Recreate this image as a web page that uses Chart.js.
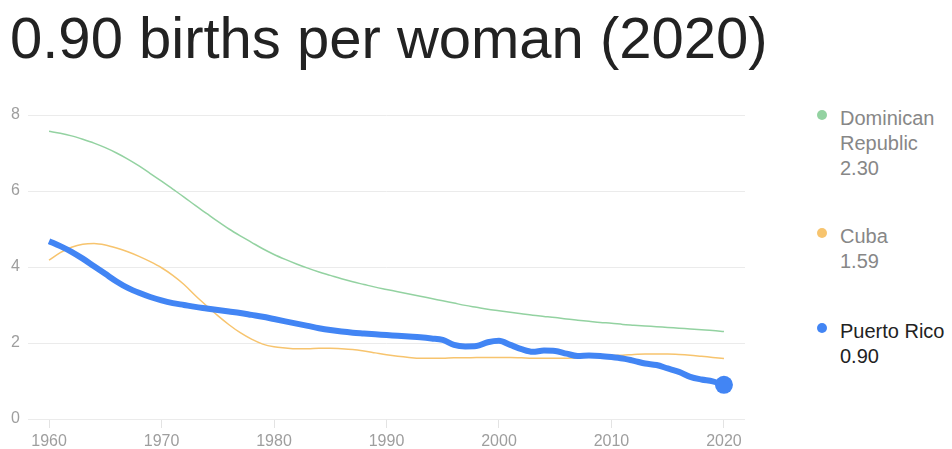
<!DOCTYPE html>
<html>
<head>
<meta charset="utf-8">
<script src="https://cdn.jsdelivr.net/npm/chart.js@4.4.1/dist/chart.umd.min.js"></script>
<style>
  body { margin: 0; background: #fff; font-family: "Liberation Sans", Arial, sans-serif; }
  #wrap { position: relative; width: 952px; height: 449px; overflow: hidden; }
  #title { position: absolute; left: 10px; top: 9px; font-size: 58px; line-height: 58px; color: #222; white-space: nowrap; }
  #chartBox { position: absolute; left: 0; top: 95px; width: 760px; height: 354px; }
  .leg { position: absolute; left: 840px; font-size: 20px; line-height: 25px; color: #878787; }
  .leg.sel { color: #222; }
  .dot { position: absolute; left: -23px; width: 10px; height: 10px; border-radius: 50%; }
</style>
</head>
<body>
<div id="wrap">
  <div id="title">0.90 births per woman (2020)</div>
  <div id="chartBox"><canvas id="mycanvas" width="760" height="354"></canvas></div>
  <div id="legend"></div>
</div>
<script>
var years = [];
for (var y = 1960; y <= 2020; y++) years.push(y);

var xTicks = [1960, 1970, 1980, 1990, 2000, 2010, 2020];
var yTicks = [0, 2, 4, 6, 8];

var dominican = [7.57, 7.52, 7.45, 7.36, 7.26, 7.14, 7.00, 6.84, 6.66, 6.46,
  6.26, 6.05, 5.84, 5.62, 5.41, 5.20, 5.00, 4.82, 4.65, 4.48,
  4.33, 4.20, 4.08, 3.97, 3.87, 3.78, 3.69, 3.61, 3.54, 3.47,
  3.41, 3.35, 3.29, 3.23, 3.17, 3.11, 3.05, 2.99, 2.94, 2.89,
  2.85, 2.81, 2.77, 2.73, 2.70, 2.67, 2.63, 2.60, 2.57, 2.54,
  2.52, 2.49, 2.47, 2.45, 2.43, 2.41, 2.39, 2.37, 2.35, 2.33, 2.30];

var cuba = [4.18, 4.38, 4.52, 4.60, 4.62, 4.58, 4.50, 4.40, 4.28, 4.14,
  3.98, 3.78, 3.54, 3.25, 2.98, 2.72, 2.48, 2.27, 2.10, 1.97,
  1.90, 1.87, 1.85, 1.85, 1.86, 1.86, 1.85, 1.83, 1.79, 1.74,
  1.69, 1.65, 1.62, 1.60, 1.60, 1.60, 1.61, 1.61, 1.62, 1.62,
  1.62, 1.62, 1.61, 1.60, 1.60, 1.60, 1.60, 1.61, 1.63, 1.65,
  1.67, 1.68, 1.70, 1.71, 1.71, 1.71, 1.70, 1.68, 1.65, 1.62, 1.59];

var puertoRico = [4.68, 4.55, 4.40, 4.22, 4.02, 3.82, 3.62, 3.45, 3.32, 3.21,
  3.12, 3.05, 3.00, 2.95, 2.91, 2.87, 2.83, 2.79, 2.74, 2.69,
  2.63, 2.57, 2.51, 2.45, 2.39, 2.34, 2.30, 2.27, 2.25, 2.23,
  2.21, 2.19, 2.17, 2.15, 2.12, 2.08, 1.95, 1.91, 1.92, 2.02,
  2.06, 1.95, 1.84, 1.77, 1.80, 1.79, 1.72, 1.66, 1.67, 1.66,
  1.63, 1.59, 1.53, 1.46, 1.42, 1.33, 1.24, 1.11, 1.04, 0.99, 0.90];

var series = [
  { name: ["Dominican", "Republic"], value: "2.30", data: dominican, color: "#93d2a1", width: 1.5, top: 106 },
  { name: ["Cuba"], value: "1.59", data: cuba, color: "#f7c46e", width: 1.5, top: 224 },
  { name: ["Puerto Rico"], value: "0.90", data: puertoRico, color: "#4285f4", width: 6, top: 319, selected: true }
];

function points(arr) {
  return arr.map(function(v, i) { return { x: years[i], y: v }; });
}

// legend on the right
var legend = document.getElementById("legend");
series.forEach(function(s) {
  var d = document.createElement("div");
  d.className = "leg" + (s.selected ? " sel" : "");
  d.style.top = s.top + "px";
  d.innerHTML = '<span class="dot" style="top:4px;background:' + s.color + '"></span>' +
    s.name.join("<br>") + "<br>" + s.value;
  legend.appendChild(d);
});

var datasets = series.map(function(s) {
  var radius = s.data.map(function(v, i) { return (s.selected && i == s.data.length - 1) ? 9 : 0; });
  return {
    label: s.name.join(" "),
    data: points(s.data),
    borderColor: s.color,
    backgroundColor: s.color,
    borderWidth: s.width,
    pointRadius: radius,
    pointHoverRadius: radius,
    pointBorderWidth: 0,
    cubicInterpolationMode: "monotone",
    fill: false
  };
}).reverse();

var ctx = document.getElementById("mycanvas");
var chart = new Chart(ctx, {
  type: "line",
  data: { datasets: datasets },
  options: {
    responsive: false,
    animation: false,
    layout: { padding: { top: 20, right: 15, left: 0, bottom: 0 } },
    plugins: { legend: { display: false }, tooltip: { enabled: false } },
    scales: {
      x: {
        type: "linear",
        min: 1958.13,
        max: 2021.87,
        afterBuildTicks: function(scale) {
          scale.ticks = xTicks.map(function(v) { return { value: v }; });
        },
        afterFit: function(scale) { scale.height = 30; },
        grid: { drawOnChartArea: false, drawTicks: true, tickLength: 9, color: "#e3e3e3" },
        border: { display: false },
        ticks: {
          padding: 4,
          color: "#9e9e9e",
          font: { family: "'Liberation Sans', Arial", size: 16 },
          callback: function(v) { return String(v); }
        }
      },
      y: {
        min: 0,
        max: 8,
        afterBuildTicks: function(scale) {
          scale.ticks = yTicks.map(function(v) { return { value: v }; });
        },
        afterFit: function(scale) { scale.width = 28; },
        grid: { drawTicks: false, color: "#ebebeb" },
        border: { display: false },
        ticks: {
          padding: 8,
          color: "#9e9e9e",
          font: { family: "'Liberation Sans', Arial", size: 16 }
        }
      }
    }
  }
});
</script>
</body>
</html>
